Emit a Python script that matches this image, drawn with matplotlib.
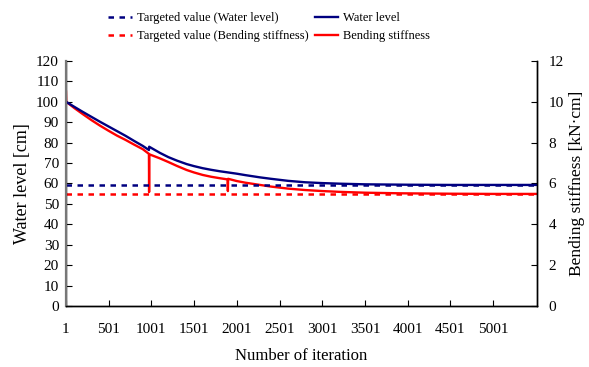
import matplotlib
matplotlib.use("Agg")
import matplotlib.pyplot as plt

plt.rcParams["font.family"] = ["Liberation Serif", "DejaVu Serif"]

# water level [cm]
water_iter = [1, 100, 200, 300, 400, 500, 600, 700, 800, 900, 972, 975,
              1100, 1200, 1300, 1414, 1500, 1600, 1700, 1800, 1900, 2000, 2100,
              2272, 2400, 2600, 2800, 3000, 3209, 3500, 4000, 4500, 5000, 5516]
water_level = [100.0, 97.5, 95.0, 92.6, 90.2, 87.9, 85.6, 83.3, 80.8, 78.4, 76.4, 78.0,
               75.0, 72.9, 71.2, 69.5, 68.5, 67.5, 66.7, 66.0, 65.4, 64.8, 64.1,
               63.0, 62.3, 61.3, 60.6, 60.2, 59.9, 59.6, 59.4, 59.3, 59.3, 59.3]

# bending stiffness [kN·cm]
stiff_iter = [1, 4, 100, 200, 300, 400, 500, 600, 700, 800, 900, 972, 974, 976,
              1100, 1200, 1300, 1414, 1500, 1600, 1700, 1800, 1893, 1896, 1899,
              2000, 2100, 2272, 2400, 2600, 2800, 3000, 3209, 3500, 3910, 4500, 5000, 5516]
stiffness = [10.5, 10.0, 9.69, 9.39, 9.10, 8.83, 8.58, 8.34, 8.13, 7.90, 7.68, 7.45, 5.58, 7.43,
             7.23, 7.05, 6.86, 6.66, 6.54, 6.42, 6.33, 6.26, 6.20, 5.63, 6.23,
             6.12, 6.04, 5.93, 5.85, 5.75, 5.68, 5.63, 5.59, 5.55, 5.52, 5.50, 5.49, 5.49]

target_water = 59.5
target_stiff = 5.5

xticks = [1, 501, 1001, 1501, 2001, 2501, 3001, 3501, 4001, 4501, 5001]

NAVY = "#000080"
RED = "#ff0000"

fig = plt.figure(figsize=(5.89, 3.67), dpi=100)
ax = fig.add_axes([0.112, 0.166, 0.8, 0.668])
ax2 = ax.twinx()

l1, = ax.plot([water_iter[0], water_iter[-1]], [target_water, target_water],
              color=NAVY, lw=1.8, ls=(0, (2.2, 2.2)), label="Targeted value (Water level)")
l2, = ax.plot(water_iter, water_level, color=NAVY, lw=1.7, label="Water level")
l3, = ax2.plot([stiff_iter[0], stiff_iter[-1]], [target_stiff, target_stiff],
               color=RED, lw=1.8, ls=(0, (2.2, 2.2)), label="Targeted value (Bending stiffness)")
l4, = ax2.plot(stiff_iter, stiffness, color=RED, lw=1.7, label="Bending stiffness")
ax.set_zorder(ax2.get_zorder() + 1)
ax.patch.set_visible(False)

ax.set_xlim(1, 5516)
ax.set_ylim(0, 120)
ax2.set_ylim(0, 12)
ax.set_xticks(xticks)
ax.set_yticks(range(0, 121, 10))
ax2.set_yticks(range(0, 13, 2))

for a in (ax, ax2):
    a.spines["top"].set_visible(False)
    for s in a.spines.values():
        s.set_linewidth(1.0)
ax.spines["left"].set_color("#777777")
ax.spines["left"].set_linewidth(1.6)

ax.tick_params(axis="both", direction="in", length=4, width=0.8, labelsize=11, pad=5)
ax.tick_params(axis="x", pad=12)
ax2.tick_params(axis="y", direction="in", length=4, width=0.8, labelsize=11, pad=8)

ax.set_xlabel("Number of iteration", fontsize=12, labelpad=9)
ax.set_ylabel("Water level [cm]", fontsize=13, labelpad=4)
ax2.set_ylabel("Bending stiffness [kN\u00b7cm]", fontsize=12.5, labelpad=4)

fig.legend(handles=[l1, l3, l2, l4], ncol=2, loc="center",
           bbox_to_anchor=(0.457, 0.926), frameon=False, fontsize=9,
           handlelength=1.9, handletextpad=0.4, columnspacing=0.5,
           labelspacing=0.45)

fig.savefig("out.png", dpi=100)
